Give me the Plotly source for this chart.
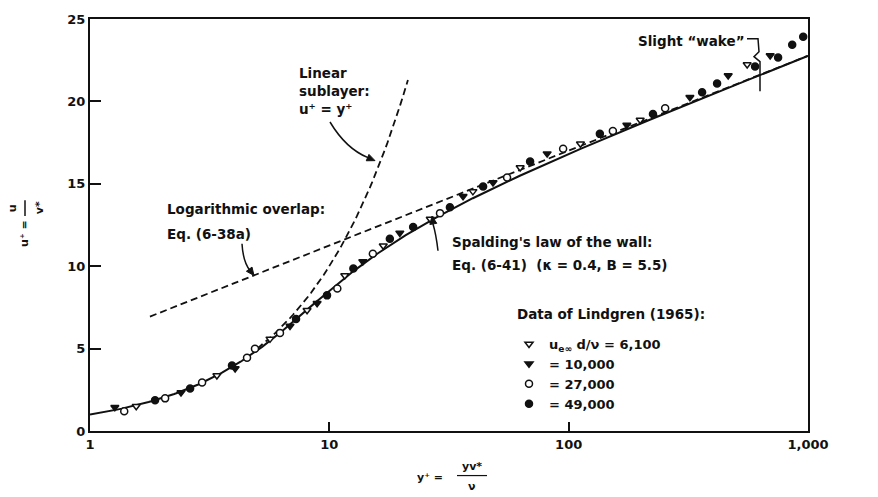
import numpy as np
import plotly.graph_objects as go

# Law-of-the-wall constants (Spalding / log overlap)
KAPPA = 0.4
B_CONST = 5.5

# Lindgren (1965) velocity-profile data, grouped by Reynolds number
RE_LABELS = ["6,100", "10,000", "27,000", "49,000"]

yplus_6100 = [1.56, 3.39, 5.65, 8.07, 11.6, 16.8, 26.4, 39.8, 62.7, 112, 199, 557]
uplus_6100 = [1.50, 3.37, 5.59, 7.33, 9.44, 11.24, 12.86, 14.54, 15.99, 17.43, 18.87, 22.24]

yplus_10000 = [1.27, 2.40, 4.04, 6.85, 8.89, 13.8, 19.7, 36.2, 48.3, 81.3, 175, 321, 464, 695]
uplus_10000 = [1.44, 2.34, 3.79, 6.37, 7.75, 10.28, 12.02, 14.24, 15.08, 16.83, 18.57, 20.25, 21.57, 22.78]

yplus_27000 = [1.39, 2.06, 2.94, 4.53, 4.89, 6.22, 10.8, 15.2, 29.0, 55.3, 94.8, 153, 253]
uplus_27000 = [1.20, 1.98, 2.94, 4.45, 4.99, 5.95, 8.65, 10.76, 13.22, 15.38, 17.13, 18.21, 19.59]

yplus_49000 = [1.87, 2.62, 3.92, 7.26, 9.78, 12.6, 17.9, 22.4, 31.9, 43.9, 69.0, 135, 225,
               361, 417, 601, 750, 859, 955]
uplus_49000 = [1.86, 2.58, 3.97, 6.79, 8.23, 9.86, 11.66, 12.38, 13.58, 14.84, 16.35, 18.03,
               19.23, 20.55, 21.09, 22.12, 22.66, 23.44, 23.92]

# Extent of the theory lines
LOG_YPLUS_RANGE = [1.78, 1000]
LIN_YPLUS_RANGE = [5.0, 21.3]
SPALDING_U_RANGE = [1.0, 23.2]

# Axis ticks
X_TICKS = [1, 10, 100, 1000]
X_TICK_TEXT = ["1", "10", "100", "1,000"]
Y_TICKS = [0, 5, 10, 15, 20, 25]

# ---------------------------------------------------------------- theory curves
u_sp = np.linspace(SPALDING_U_RANGE[0], SPALDING_U_RANGE[1], 500)
ku = KAPPA * u_sp
y_sp = u_sp + np.exp(-KAPPA * B_CONST) * (np.exp(ku) - 1 - ku - ku**2 / 2 - ku**3 / 6)
keep = y_sp <= 1000
y_sp, u_sp = y_sp[keep], u_sp[keep]

y_log = np.array(LOG_YPLUS_RANGE)
u_log = np.log(y_log) / KAPPA + B_CONST

y_lin = np.geomspace(LIN_YPLUS_RANGE[0], LIN_YPLUS_RANGE[1], 60)
u_lin = y_lin

# ---------------------------------------------------------------- page geometry
W, H = 878, 497
ML, MR, MT, MB = 90, 70, 15, 66
PW, PH = W - ML - MR, H - MT - MB


def fx(x):
    return (x - ML) / PW


def fy(y):
    return (H - MB - y) / PH


FONT = "DejaVu Sans"
INK = "#111111"

fig = go.Figure()

fig.add_trace(go.Scatter(x=y_log, y=u_log, mode="lines", showlegend=False,
                         line=dict(color=INK, width=1.8, dash="7px,4px")))
fig.add_trace(go.Scatter(x=y_lin, y=u_lin, mode="lines", showlegend=False,
                         line=dict(color=INK, width=1.8, dash="7px,4px")))
fig.add_trace(go.Scatter(x=y_sp, y=u_sp, mode="lines", showlegend=False,
                         line=dict(color=INK, width=2)))

series = [
    (yplus_6100, uplus_6100, "triangle-down", "white",
     "u<sub>e∞</sub> d/ν = " + RE_LABELS[0]),
    (yplus_10000, uplus_10000, "triangle-down", INK, "= " + RE_LABELS[1]),
    (yplus_27000, uplus_27000, "circle", "white", "= " + RE_LABELS[2]),
    (yplus_49000, uplus_49000, "circle", INK, "= " + RE_LABELS[3]),
]
for xs, ys, sym, fill, name in series:
    fig.add_trace(go.Scatter(
        x=xs, y=ys, mode="markers", name=name,
        marker=dict(symbol=sym, size=7, color=fill, line=dict(color=INK, width=1.5)),
    ))


def label(text, x, y, size=13.5, anchor="left", angle=0, bold=True):
    fig.add_annotation(
        text=text, x=fx(x), y=fy(y), xref="paper", yref="paper",
        xanchor=anchor, yanchor="middle", showarrow=False, textangle=angle,
        font=dict(family=FONT, size=size, color=INK, weight="bold" if bold else "normal"),
    )


def curve(x0, y0, cx, cy, x1, y1):
    fig.add_shape(type="path", xref="paper", yref="paper",
                  path=f"M {fx(x0)},{fy(y0)} Q {fx(cx)},{fy(cy)} {fx(x1)},{fy(y1)}",
                  line=dict(color=INK, width=1.5))


def head(x, y, dx, dy, length=8.0, half=3.5):
    """Filled arrowhead with its tip at (x, y), pointing away from (x+dx, y+dy)."""
    n = np.hypot(dx, dy)
    ux, uy = -dx / n, -dy / n
    bx, by = x - ux * length, y - uy * length
    px_, py_ = -uy * half, ux * half
    pts = [(x, y), (bx + px_, by + py_), (bx - px_, by - py_)]
    path = "M " + " L ".join(f"{fx(a)},{fy(b)}" for a, b in pts) + " Z"
    fig.add_shape(type="path", xref="paper", yref="paper", path=path,
                  fillcolor=INK, line=dict(color=INK, width=1))


# Linear sublayer callout
label("Linear", 297, 70)
label("sublayer:", 297, 88)
label("u⁺ = y⁺", 297, 106)
curve(330, 119, 346, 146, 368, 155)
head(375, 158, -12, -5)

# Log overlap callout
label("Logarithmic overlap:", 165, 207)
label("Eq. (6-38a)", 165, 232)
curve(242, 242, 243, 260, 250, 269)
head(254, 274, -6, -8)

# Spalding callout
label("Spalding's law of the wall:", 450, 240)
label(f"Eq. (6-41)  (κ = {KAPPA}, B = {B_CONST})", 450, 263)
curve(438, 249, 436, 232, 433, 222)
head(432, 214, 2, 12)

# Data legend heading
label("Data of Lindgren (1965):", 515, 313)

# Wake bracket
label("Slight “wake”", 636, 37)
fig.add_shape(type="path", xref="paper", yref="paper",
              path=(f"M {fx(747)},{fy(35)} L {fx(758)},{fy(35)} L {fx(759)},{fy(48)} "
                    f"L {fx(754)},{fy(53)} L {fx(760)},{fy(58)} L {fx(760)},{fy(88)}"),
              line=dict(color=INK, width=1.5))

# y-axis title: u+ = u / v*
label("u⁺ =", 25, 232, size=11, anchor="center", angle=-90)
label("u", 12, 206, size=11, anchor="center", angle=-90)
label("v*", 39, 206, size=11, anchor="center", angle=-90)
fig.add_shape(type="line", xref="paper", yref="paper",
              x0=fx(25), x1=fx(25), y0=fy(198), y1=fy(214), line=dict(color=INK, width=1.5))

# x-axis title: y+ = y v* / nu
label("y⁺ =", 430, 478, size=11, anchor="center")
label("yv*", 472, 467, size=11, anchor="center")
label("ν", 472, 487, size=11, anchor="center")
fig.add_shape(type="line", xref="paper", yref="paper",
              x0=fx(457), x1=fx(487), y0=fy(476), y1=fy(476), line=dict(color=INK, width=1.2))

axis_common = dict(
    showline=True, linecolor=INK, linewidth=2, mirror=True,
    ticks="inside", tickwidth=2, tickcolor=INK, showgrid=False, zeroline=False,
    tickfont=dict(family=FONT, size=13, color=INK, weight="bold"),
)

fig.update_layout(
    width=W, height=H,
    margin=dict(l=ML, r=MR, t=MT, b=MB),
    paper_bgcolor="white", plot_bgcolor="white",
    xaxis=dict(type="log", range=[0, 3], tickvals=X_TICKS, ticktext=X_TICK_TEXT,
               ticklen=9, **axis_common),
    yaxis=dict(range=[0, 25], tickvals=Y_TICKS, ticklen=11, **axis_common),
    legend=dict(x=fx(509), y=fy(328), xanchor="left", yanchor="top",
                bgcolor="rgba(0,0,0,0)", tracegroupgap=0,
                font=dict(family=FONT, size=13, color=INK, weight="bold")),
)

fig.write_html("out.html")
